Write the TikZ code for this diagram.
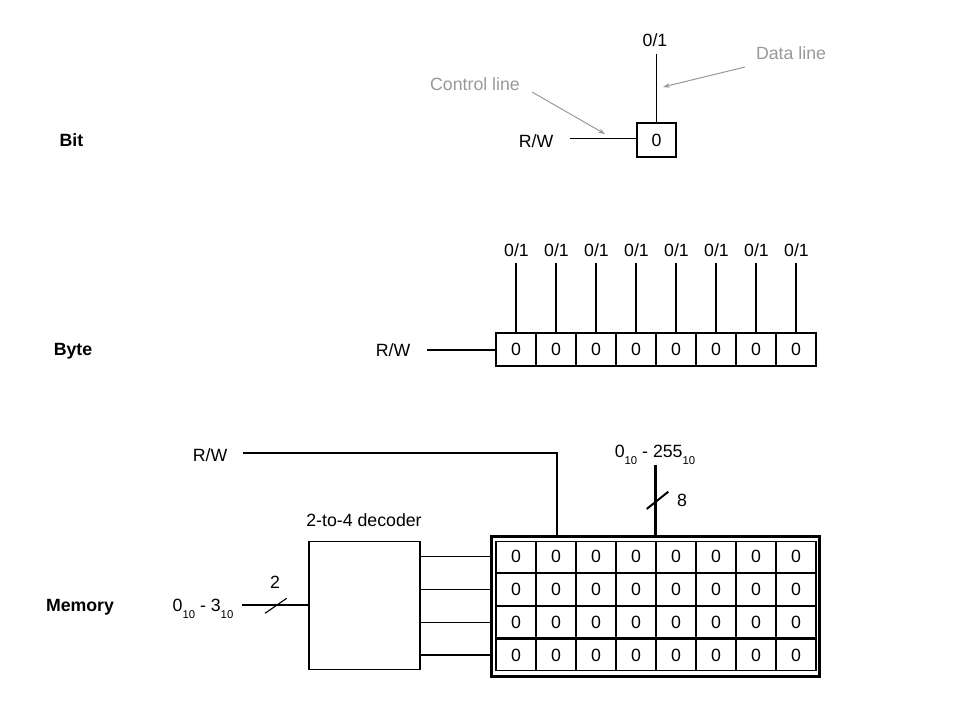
\documentclass[tikz,border=0pt]{standalone}
\usepackage{fontspec}
\setmainfont{Liberation Sans}
\usetikzlibrary{arrows.meta}
\definecolor{lgray}{HTML}{999999}
\newcommand{\sbs}[1]{\raisebox{-5pt}{\fontsize{8.5}{9}\selectfont #1}}
\begin{document}
\begin{tikzpicture}[x=0.75pt,y=-0.75pt,
  txt/.style={font=\fontsize{13.3}{15}\selectfont, inner sep=0pt, outer sep=0pt},
  hdr/.style={txt, font=\fontsize{13.3}{15}\selectfont\bfseries},
  note/.style={txt, text=lgray},
  wire/.style={line width=0.85pt},
  notearrow/.style={draw=lgray, line width=0.75pt, -{Stealth[length=5pt,width=3.5pt]}},
  cell/.style={draw, line width=0.85pt, minimum width=30pt, minimum height=24.75pt, inner sep=0pt, outer sep=0pt, txt},
  mcell/.style={cell, minimum height=23.6pt},
  bus/.style={line width=2.25pt}]
\useasboundingbox (0,0) rectangle (960,720);

% ---------- Bit ----------
\node[hdr] (hbit) at (71.5,140) {Bit};
\node[cell, minimum width=29.25pt, minimum height=25.5pt] (bit) at (656.5,140) {0};
\node[txt] (bitlab) at (655,40) {0/1};
\coordinate (bittop) at (656.5,54);
\draw[wire] (bit.north) -- (bittop);
\node[txt] (rw1) at (536,141) {R/W};
\coordinate (rw1s) at (570,138.5);
\draw[wire] (rw1s) -- (rw1s -| bit.west);
\node[note] (dl) at (791,53) {Data line};
\node[note] (cl) at (475,84) {Control line};
\coordinate (dlS) at (745,67);
\coordinate (dlE) at (663,87);
\coordinate (clS) at (532,92);
\coordinate (clE) at (605,134);
\draw[notearrow] (dlS) -- (dlE);
\draw[notearrow] (clS) -- (clE);

% ---------- Byte ----------
\node[hdr] (hbyte) at (73,351) {Byte};
\node[txt] (rw2) at (393,350) {R/W};
\coordinate (lt) at (0,263);
\foreach \i in {0,...,7} {
  \node[cell] (b\i) at (516+40*\i,349.5) {0};
  \node[txt] (l\i) at (516.5+40*\i,250) {0/1};
  \draw[wire] (b\i.north) -- (b\i.north |- lt);
}
\coordinate (rw2s) at (427,350);
\draw[wire] (rw2s) -- (rw2s -| b0.west);

% ---------- Memory ----------
\node[hdr] (hmem) at (80,607) {Memory};
\node[draw, line width=2.25pt, minimum width=246.2pt, minimum height=105pt, inner sep=0pt, outer sep=0pt] (mem) at (655.85,606) {};
\foreach \r in {0,...,3} {
  \foreach \i in {0,...,7} {
    \node[mcell] (m\r-\i) at (516+40*\i,556.8+32.75*\r) {0};
  }
}
\node[draw, line width=0.85pt, minimum width=83.25pt, minimum height=95.7pt, inner sep=0pt, outer sep=0pt] (dec) at (364.5,605.5) {};
\node[txt] (declab) at (364,520) {2-to-4 decoder};
\foreach \r in {0,...,3} {
  \draw[wire] (dec.east |- m\r-0) -- (mem.west |- m\r-0);
}
% address input
\node[txt] (addr) at (203,609) {0\sbs{10} - 3\sbs{10}};
\coordinate (inS) at (242,605);
\draw[wire] (inS) -- (inS -| dec.west);
\coordinate (sl1a) at (265,613.3);
\coordinate (sl1b) at (286.7,598.3);
\draw[wire] (sl1a) -- (sl1b);
\node[txt] (two) at (275,582) {2};
% R/W
\node[txt] (rw3) at (210,455) {R/W};
\coordinate (rw3s) at (243,453);
\coordinate (rw3c) at (557,453);
\draw[wire] (rw3s) -- (rw3c) -- (rw3c |- mem.north);
% data bus
\node[txt] (dat) at (655,455) {0\sbs{10} - 255\sbs{10}};
\coordinate (busT) at (655.85,465);
\draw[bus] (busT) -- (mem.north);
\coordinate (sl2a) at (646.7,509);
\coordinate (sl2b) at (668.3,491.7);
\draw[line width=1.5pt] (sl2a) -- (sl2b);
\node[txt] (eight) at (682,500) {8};
\end{tikzpicture}
\end{document}
